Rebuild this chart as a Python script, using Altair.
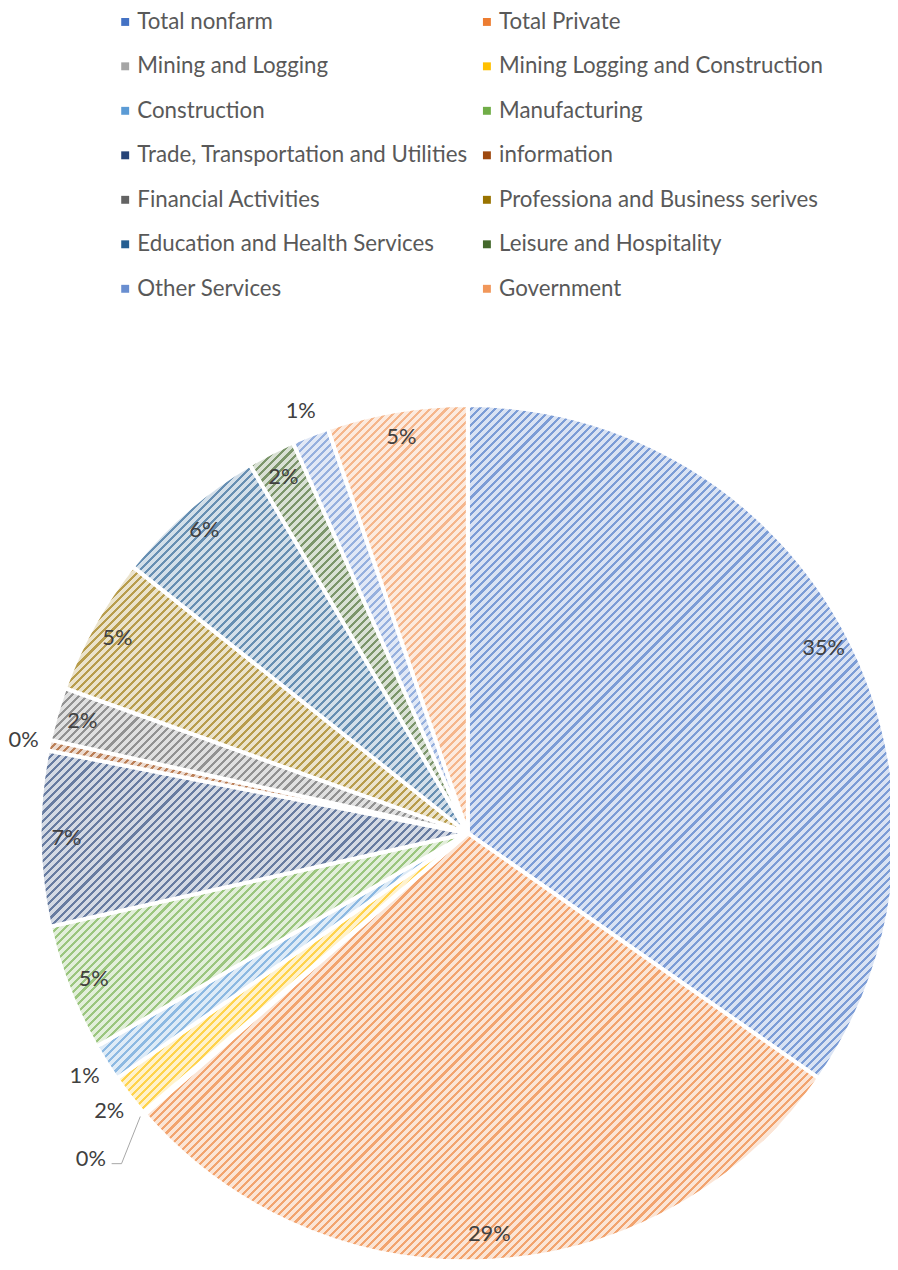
import math
import altair as alt
import pandas as pd

categories = [
    "Total nonfarm", "Total Private", "Mining and Logging",
    "Mining Logging and Construction", "Construction", "Manufacturing",
    "Trade, Transportation and Utilities", "information", "Financial Activities",
    "Professiona and Business serives", "Education and Health Services",
    "Leisure and Hospitality", "Other Services", "Government",
]
shares = [34.7, 28.9, 0.1, 1.6, 1.4, 4.8, 6.6, 0.4, 2.0, 5.2, 5.8, 1.8, 1.4, 5.3]
colors = [
    "#4472C4", "#ED7D31", "#A5A5A5", "#FFC000", "#5B9BD5", "#70AD47",
    "#264478", "#9E480E", "#636363", "#997300", "#255E91", "#43682B",
    "#698ED0", "#F1975A",
]

FONT = "Lato"
W, H = 890, 1256
CX, CY, R = 464, 827, 432

df = pd.DataFrame({"category": categories, "value": shares, "idx": list(range(len(categories)))})
total = sum(shares)

# hatch overlay gradient (stripes)
n = 150
f = 0.62
stops = []
for k in range(n):
    a, b, c = k / n, (k + f) / n, (k + 1) / n
    stops += [
        {"offset": a, "color": "rgba(255,255,255,0.80)"},
        {"offset": b, "color": "rgba(255,255,255,0.80)"},
        {"offset": b, "color": "rgba(255,255,255,0.30)"},
        {"offset": c, "color": "rgba(255,255,255,0.30)"},
    ]
ang = math.radians(45)
ux, uy = math.sin(ang), math.cos(ang)
hatch = {
    "gradient": "linear",
    "x1": 0.5 - 0.5 * ux, "y1": 0.5 - 0.5 * uy,
    "x2": 0.5 + 0.5 * ux, "y2": 0.5 + 0.5 * uy,
    "stops": stops,
}

pie = alt.Chart(df).mark_arc(outerRadius=R, stroke="white", strokeWidth=4).encode(
    theta=alt.Theta("value:Q", stack=True),
    color=alt.Color(
        "category:N",
        scale=alt.Scale(domain=categories, range=colors),
        sort=categories,
        legend=alt.Legend(
            title=None, orient="none", legendX=107, legendY=-3, columns=2,
            direction="horizontal",
            symbolType="square", symbolSize=64, symbolStrokeWidth=0, symbolOpacity=1,
            labelFont=FONT, labelFontSize=22.5, labelColor="#595959",
            labelLimit=600, rowPadding=21.9, columnPadding=7, labelOffset=1,
            padding=0,
        ),
    ),
    order=alt.Order("idx:Q"),
    x=alt.value(CX), y=alt.value(CY),
)

overlay = alt.Chart(pd.DataFrame({"k": [0]})).mark_arc(
    outerRadius=R, theta=0, theta2=2 * math.pi, fill=hatch, strokeWidth=0
).encode(x=alt.value(CX), y=alt.value(CY))

labels = alt.Chart(df).transform_window(
    cum="sum(value)", sort=[alt.SortField("idx")], frame=[None, 0]
).transform_calculate(
    mid=f"(datum.cum - datum.value / 2) / {total} * 2 * PI",
    pct=f"format(datum.value / {total}, '.0%')",
    lr="datum.value < 0.25 ? 503 : (datum.value < 1.7 ? 458 : 405)",
).mark_text(font=FONT, fontSize=22, color="#404040", align="center", baseline="middle").encode(
    theta=alt.Theta("mid:Q", scale=None),
    radius=alt.Radius("lr:Q", scale=None),
    text="pct:N",
    x=alt.value(CX), y=alt.value(CY),
)

# leader line for the tiny slice
cum = sum(shares[:2]) + shares[2] / 2
a0 = cum / total * 2 * math.pi
a1 = a0 - math.radians(2.8)
lead = pd.DataFrame({
    "i": [0, 1, 2],
    "lx": [CX + 437 * math.sin(a0), CX + 483 * math.sin(a1), CX + 483 * math.sin(a1) - 10],
    "ly": [CY - 437 * math.cos(a0), CY - 483 * math.cos(a1), CY - 483 * math.cos(a1)],
})
leader = alt.Chart(lead).mark_line(color="#A6A6A6", strokeWidth=1).encode(
    x=alt.X("lx:Q", scale=None, axis=None),
    y=alt.Y("ly:Q", scale=None, axis=None),
    order=alt.Order("i:Q"),
)

chart = alt.layer(pie, overlay, leader, labels).properties(
    width=W, height=H, padding=0, autosize=alt.AutoSizeParams(type="none")
).configure_view(stroke=None)

chart.save("out.html", embed_options={"renderer": "svg", "actions": False})
